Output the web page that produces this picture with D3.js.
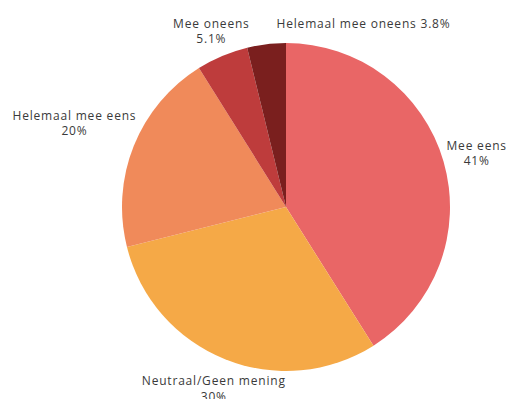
<!DOCTYPE html>
<html>
<head>
<meta charset="utf-8">
<script src="https://cdn.jsdelivr.net/npm/d3@7"></script>
<style>
  html, body { margin: 0; padding: 0; background: #fff; }
  svg { display: block; }
  .lbl { font-family: "Open Sans", "Noto Sans", sans-serif; font-size: 12px; letter-spacing: 0.8px; fill: #3a3a3a; }
</style>
</head>
<body>
<script>
// Survey answers, clockwise from 12 o'clock
const categories = ["Mee eens", "Neutraal/Geen mening", "Helemaal mee eens", "Mee oneens", "Helemaal mee oneens"];
const values = [41, 30, 20, 5.1, 3.8];
const valueLabels = ["41%", "30%", "20%", "5.1%", "3.8%"];
const colors = ["#E96666", "#F5A947", "#F08A5A", "#BE3C3C", "#7A1F1E"];

const W = 512, H = 399;
const cx = 286, cy = 207, radius = 164;
const labelGap = 1, lineH = 15.5;

const svg = d3.select("body").append("svg").attr("width", W).attr("height", H);
const g = svg.append("g").attr("transform", `translate(${cx},${cy})`);

const pie = d3.pie().sort(null).value(d => d.value);
const arcs = pie(categories.map((c, i) => ({ name: c, value: values[i], label: valueLabels[i], color: colors[i] })));
const arc = d3.arc().innerRadius(0).outerRadius(radius);

g.selectAll("path.slice").data(arcs).join("path")
  .attr("class", "slice")
  .attr("d", arc)
  .attr("fill", d => d.data.color);

// Measure a string in the label font
const probe = svg.append("text").attr("class", "lbl").attr("visibility", "hidden");
function textWidth(s) { probe.text(s); return probe.node().getComputedTextLength(); }

// distance from the pie centre to the nearest point of a box
function boxDist(x, y, w, h) {
  const px = Math.max(x - w / 2, Math.min(0, x + w / 2));
  const py = Math.max(y - h / 2, Math.min(0, y + h / 2));
  return Math.hypot(px, py);
}

const boxes = [];
arcs.forEach(d => {
  const a = (d.startAngle + d.endAngle) / 2;
  const w = Math.max(textWidth(d.data.name), textWidth(d.data.label));
  const h = lineH * 2;
  // slide the label outward along the slice bisector until it clears the pie
  let r = radius, x = 0, y = 0;
  do {
    x = Math.sin(a) * r; y = -Math.cos(a) * r; r += 0.5;
  } while (boxDist(x, y, w, h) < radius + labelGap);
  const box = { x0: x - w / 2, x1: x + w / 2, y0: y - h / 2, y1: y + h / 2 };
  const hit = boxes.find(b => box.x0 < b.x1 && box.x1 > b.x0 && box.y0 < b.y1 && box.y1 > b.y0);
  if (hit) {
    // crowded slice: one-line label set beside its neighbour
    const text = `${d.data.name} ${d.data.label}`;
    const sx = hit.x1 + 27;
    g.append("text").attr("class", "lbl")
      .attr("x", sx).attr("y", hit.y0 + lineH * 0.5).attr("dy", "0.45em")
      .attr("text-anchor", "start").text(text);
    boxes.push({ x0: sx, x1: sx + textWidth(text), y0: hit.y0, y1: hit.y0 + lineH });
  } else {
    const t = g.append("text").attr("class", "lbl").attr("text-anchor", "middle");
    t.append("tspan").attr("x", x).attr("y", y - lineH / 2).attr("dy", "0.45em").text(d.data.name);
    t.append("tspan").attr("x", x).attr("y", y + lineH / 2).attr("dy", "0.45em").text(d.data.label);
    boxes.push(box);
  }
});
probe.remove();
</script>
</body>
</html>
